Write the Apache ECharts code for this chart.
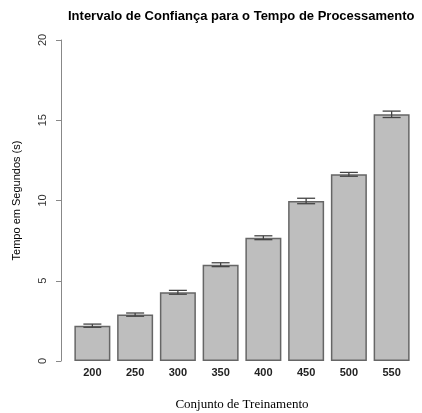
<!DOCTYPE html>
<html>
<head>
<meta charset="utf-8">
<script src="https://cdn.jsdelivr.net/npm/echarts@6/dist/echarts.min.js"></script>
<style>
  html, body { margin: 0; padding: 0; background: #fff; }
  #chart { width: 422px; height: 413px; }
</style>
</head>
<body>
<div id="chart"></div>
<script>
var categories = ['200', '250', '300', '350', '400', '450', '500', '550'];
var meanTimes = [2.2, 2.89, 4.28, 6.0, 7.68, 9.97, 11.63, 15.37];
var errMargins = [0.1, 0.1, 0.12, 0.12, 0.12, 0.17, 0.12, 0.2];
var yTicks = [0, 5, 10, 15, 20];

var errData = meanTimes.map(function (v, i) {
  return [i, v - errMargins[i], v + errMargins[i]];
});

var chart = echarts.init(document.getElementById('chart'));

chart.setOption({
  animation: false,
  title: {
    text: 'Intervalo de Confiança para o Tempo de Processamento',
    left: 63,
    top: 5,
    textStyle: { fontFamily: 'Liberation Sans', fontSize: 13, fontWeight: 'bold', color: '#000' }
  },
  grid: { left: 71, right: 9, top: 40, bottom: 52, outerBoundsMode: 'none' },
  xAxis: {
    type: 'category',
    data: categories,
    name: 'Conjunto de Treinamento',
    nameLocation: 'middle',
    nameGap: 37,
    nameTextStyle: { fontFamily: 'Liberation Serif', fontSize: 13, color: '#000' },
    axisLine: { show: false },
    axisTick: { show: false },
    axisLabel: { margin: 6, fontFamily: 'Liberation Sans', fontSize: 11, fontWeight: 'bold', color: '#222' }
  },
  yAxis: {
    type: 'value',
    min: 0,
    max: 20,
    interval: 5,
    offset: 10,
    name: 'Tempo em Segundos (s)',
    nameLocation: 'middle',
    nameGap: 39,
    nameTextStyle: { fontFamily: 'Liberation Sans', fontSize: 11, color: '#000' },
    axisLine: { show: true, lineStyle: { color: '#888', width: 1 } },
    axisTick: { show: true, length: 5, lineStyle: { color: '#888' } },
    splitLine: { show: false },
    axisLabel: {
      rotate: 90,
      margin: 13,
      fontFamily: 'Liberation Sans',
      fontSize: 11,
      color: '#333',
      formatter: function (v) { return yTicks.indexOf(v) >= 0 ? String(v) : ''; }
    }
  },
  series: [
    {
      type: 'bar',
      data: meanTimes,
      barWidth: 36,
      itemStyle: { color: '#bebebe', borderColor: '#666', borderWidth: 1.5 }
    },
    {
      type: 'custom',
      data: errData,
      z: 10,
      renderItem: function (params, api) {
        var x = api.value(0);
        var lo = api.coord([x, api.value(1)]);
        var hi = api.coord([x, api.value(2)]);
        var half = 9;
        var style = { stroke: '#444', lineWidth: 1.3 };
        return {
          type: 'group',
          children: [
            { type: 'line', shape: { x1: lo[0], y1: lo[1], x2: hi[0], y2: hi[1] }, style: style },
            { type: 'line', shape: { x1: lo[0] - half, y1: lo[1], x2: lo[0] + half, y2: lo[1] }, style: style },
            { type: 'line', shape: { x1: hi[0] - half, y1: hi[1], x2: hi[0] + half, y2: hi[1] }, style: style }
          ]
        };
      }
    }
  ]
});
</script>
</body>
</html>
